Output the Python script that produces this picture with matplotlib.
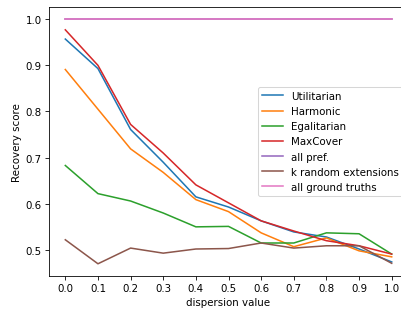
import matplotlib
matplotlib.use("Agg")
import matplotlib.pyplot as plt

dispersion = [0.0, 0.1, 0.2, 0.3, 0.4, 0.5, 0.6, 0.7, 0.8, 0.9, 1.0]

utilitarian = [0.957, 0.893, 0.761, 0.690, 0.615, 0.593, 0.563, 0.539, 0.528, 0.502, 0.474]
harmonic = [0.891, 0.805, 0.719, 0.668, 0.609, 0.583, 0.537, 0.507, 0.526, 0.498, 0.485]
egalitarian = [0.683, 0.622, 0.606, 0.580, 0.550, 0.551, 0.515, 0.515, 0.537, 0.535, 0.491]
maxcover = [0.977, 0.900, 0.772, 0.710, 0.641, 0.602, 0.563, 0.541, 0.520, 0.509, 0.491]
all_pref = [1.0] * 11
k_random = [0.522, 0.470, 0.504, 0.493, 0.502, 0.503, 0.515, 0.504, 0.509, 0.509, 0.471]
all_truths = [1.0] * 11

series = [
    ("Utilitarian", utilitarian),
    ("Harmonic", harmonic),
    ("Egalitarian", egalitarian),
    ("MaxCover", maxcover),
    ("all pref.", all_pref),
    ("k random extensions", k_random),
    ("all ground truths", all_truths),
]

# reference looks like a default-style figure shrunk to ~74 %
DPI = 74
fig = plt.figure(figsize=(401 / DPI, 312 / DPI), dpi=DPI)
ax = fig.add_axes([0.1222, 0.1122, 0.8953, 0.8622])
for label, values in series:
    ax.plot(dispersion, values, label=label)

ax.set_xticks(dispersion)
ax.set_xlabel("dispersion value")
ax.set_ylabel("Recovery score")
ax.legend(loc="center right")

fig.savefig("out.png", dpi=DPI)
